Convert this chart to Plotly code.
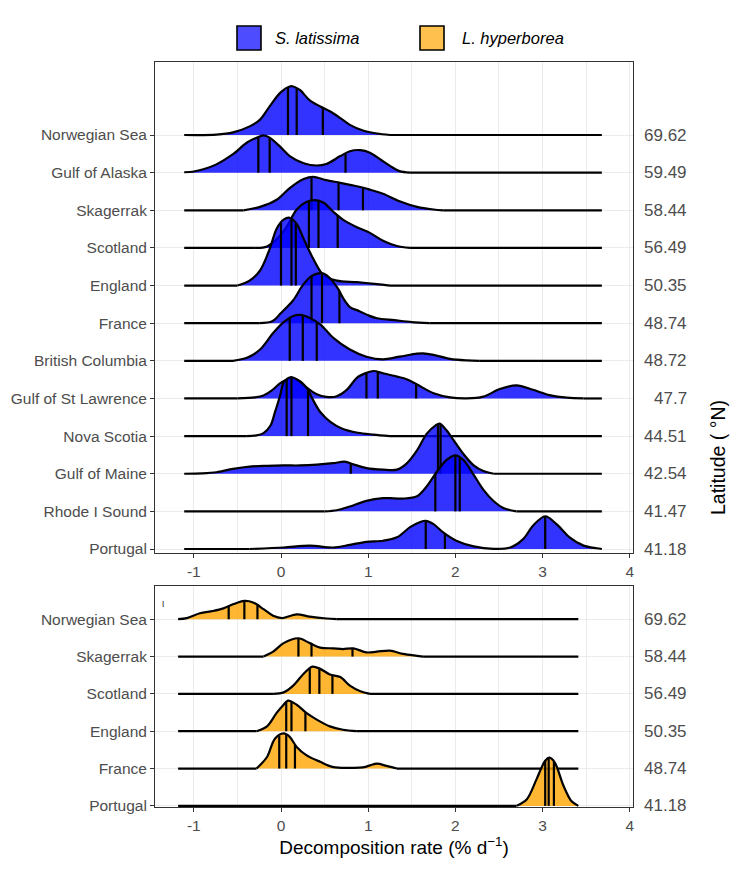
import numpy as np
import plotly.graph_objects as go

# ---------------- categories / tick labels ----------------
top_sites = ["Norwegian Sea", "Gulf of Alaska", "Skagerrak", "Scotland", "England", "France",
             "British Columbia", "Gulf of St Lawrence", "Nova Scotia", "Gulf of Maine",
             "Rhode I Sound", "Portugal"]
top_lat = ["69.62", "59.49", "58.44", "56.49", "50.35", "48.74", "48.72", "47.7",
           "44.51", "42.54", "41.47", "41.18"]
bot_sites = ["Norwegian Sea", "Skagerrak", "Scotland", "England", "France", "Portugal"]
bot_lat = ["69.62", "58.44", "56.49", "50.35", "48.74", "41.18"]
x_tick_vals = [-1, 0, 1, 2, 3, 4]
species = ["S. latissima", "L. hyperborea"]

# ---------------- S. latissima density curves (x, scaled height) + quartiles ----------------
sl_nor_x = [-1.11, -0.74, -0.55, -0.36, -0.24, -0.13, -0.01, 0.10, 0.14, 0.22, 0.33, 0.45, 0.56, 0.68, 0.79, 0.94, 1.10, 1.25, 3.68]
sl_nor_h = [0, 0.01, 0.07, 0.23, 0.41, 0.76, 1.12, 1.29, 1.29, 1.19, 0.92, 0.76, 0.63, 0.45, 0.27, 0.12, 0.04, 0, 0]
sl_nor_q = [0.08, 0.18, 0.48]

sl_ala_x = [-1.11, -1.0, -0.89, -0.74, -0.55, -0.39, -0.28, -0.20, -0.13, -0.01, 0.10, 0.26, 0.41, 0.52, 0.68, 0.79, 0.91, 1.02, 1.14, 1.25, 1.36, 1.48, 3.68]
sl_ala_h = [0.01, 0.03, 0.09, 0.22, 0.49, 0.80, 0.93, 0.99, 0.93, 0.69, 0.44, 0.25, 0.19, 0.23, 0.44, 0.57, 0.60, 0.53, 0.35, 0.18, 0.04, 0, 0]
sl_ala_q = [-0.26, -0.13, 0.74]

sl_ska_x = [-1.11, -0.43, -0.24, -0.05, 0.10, 0.26, 0.37, 0.52, 0.68, 0.87, 1.02, 1.17, 1.36, 1.56, 1.75, 1.86, 3.68]
sl_ska_h = [0, 0, 0.09, 0.28, 0.59, 0.83, 0.89, 0.80, 0.73, 0.64, 0.55, 0.44, 0.24, 0.09, 0.02, 0, 0]
sl_ska_q = [0.35, 0.66, 0.94]

sl_sco_x = [-1.11, -0.30, -0.16, 0.03, 0.18, 0.29, 0.39, 0.49, 0.60, 0.71, 0.87, 1.02, 1.17, 1.33, 1.48, 3.68]
sl_sco_h = [0, 0, 0.04, 0.44, 1.02, 1.22, 1.27, 1.20, 0.96, 0.75, 0.55, 0.40, 0.19, 0.05, 0, 0]
sl_sco_q = [0.32, 0.43, 0.65]

sl_eng_x = [-1.11, -0.50, -0.36, -0.24, -0.13, -0.05, 0.03, 0.10, 0.18, 0.26, 0.37, 0.49, 0.64, 0.87, 1.10, 1.25, 3.68]
sl_eng_h = [0, 0, 0.13, 0.40, 0.97, 1.51, 1.75, 1.80, 1.64, 1.24, 0.71, 0.27, 0.13, 0.09, 0.04, 0, 0]
sl_eng_q = [0.00, 0.12, 0.17]

sl_fra_x = [-1.11, -0.25, -0.10, 0.00, 0.14, 0.25, 0.35, 0.47, 0.55, 0.65, 0.72, 0.79, 0.90, 1.00, 1.10, 1.30, 1.50, 1.70, 3.68]
sl_fra_h = [0, 0, 0.05, 0.27, 0.61, 1.01, 1.25, 1.33, 1.22, 0.93, 0.64, 0.43, 0.32, 0.21, 0.13, 0.08, 0.03, 0, 0]
sl_fra_q = [0.35, 0.47, 0.67]

sl_bc_x = [-1.11, -0.55, -0.39, -0.24, -0.09, 0.03, 0.14, 0.22, 0.33, 0.45, 0.60, 0.79, 0.98, 1.17, 1.36, 1.56, 1.63, 1.75, 1.94, 2.13, 2.28, 3.68]
sl_bc_h = [0, 0, 0.08, 0.30, 0.74, 1.03, 1.19, 1.22, 1.14, 0.97, 0.61, 0.30, 0.11, 0.04, 0.11, 0.19, 0.20, 0.16, 0.05, 0.01, 0, 0]
sl_bc_q = [0.10, 0.25, 0.41]

sl_gsl_x = [-1.11, -0.50, -0.30, -0.20, -0.10, 0.00, 0.12, 0.22, 0.30, 0.41, 0.52, 0.64, 0.76, 0.87, 0.98, 1.06, 1.17, 1.33, 1.44, 1.56, 1.75, 1.94, 2.13, 2.32, 2.51, 2.70, 2.89, 3.08, 3.28, 3.47, 3.68]
sl_gsl_h = [0, 0, 0.03, 0.08, 0.22, 0.42, 0.54, 0.45, 0.28, 0.11, 0.04, 0.06, 0.24, 0.55, 0.68, 0.73, 0.67, 0.58, 0.51, 0.37, 0.14, 0.03, 0.005, 0.05, 0.25, 0.35, 0.23, 0.09, 0.02, 0, 0]
sl_gsl_q = [0.98, 1.11, 1.55]

sl_ns_x = [-1.11, -0.40, -0.28, -0.20, -0.12, -0.07, -0.01, 0.03, 0.07, 0.115, 0.20, 0.30, 0.37, 0.45, 0.57, 0.69, 0.88, 1.06, 1.25, 3.68]
sl_ns_h = [0, 0, 0.02, 0.08, 0.28, 0.63, 1.08, 1.43, 1.52, 1.57, 1.48, 1.26, 0.95, 0.64, 0.37, 0.21, 0.09, 0.04, 0, 0]
sl_ns_q = [0.065, 0.12, 0.31]

sl_gom_x = [-1.11, -0.90, -0.74, -0.55, -0.36, -0.16, 0.03, 0.22, 0.41, 0.60, 0.73, 0.83, 0.98, 1.17, 1.33, 1.44, 1.56, 1.67, 1.77, 1.82, 1.90, 1.98, 2.09, 2.21, 2.32, 2.44, 3.68]
sl_gom_h = [0, 0.01, 0.04, 0.13, 0.19, 0.21, 0.22, 0.22, 0.24, 0.28, 0.32, 0.25, 0.15, 0.11, 0.11, 0.27, 0.62, 1.06, 1.28, 1.33, 1.15, 0.89, 0.53, 0.22, 0.07, 0, 0]
sl_gom_q = [0.80, 1.80, 1.83]

sl_ris_x = [-1.11, 0.50, 0.64, 0.79, 0.98, 1.17, 1.25, 1.40, 1.56, 1.67, 1.79, 1.90, 2.00, 2.09, 2.21, 2.32, 2.44, 2.55, 2.70, 3.68]
sl_ris_h = [0, 0, 0.03, 0.13, 0.28, 0.35, 0.35, 0.34, 0.40, 0.66, 1.06, 1.37, 1.49, 1.37, 0.97, 0.58, 0.27, 0.09, 0, 0]
sl_ris_q = [1.77, 2.00, 2.05]

sl_por_x = [-1.11, -0.36, 0.03, 0.33, 0.60, 0.79, 0.98, 1.17, 1.33, 1.48, 1.59, 1.66, 1.75, 1.86, 2.01, 2.21, 2.44, 2.63, 2.78, 2.89, 3.03, 3.16, 3.31, 3.47, 3.62, 3.68]
sl_por_h = [0, 0, 0.04, 0.09, 0.04, 0.11, 0.19, 0.22, 0.31, 0.58, 0.71, 0.75, 0.66, 0.44, 0.22, 0.07, 0.005, 0.04, 0.27, 0.62, 0.87, 0.66, 0.31, 0.09, 0.02, 0]
sl_por_q = [1.66, 1.88, 3.03]

# ---------------- L. hyperborea density curves ----------------
lh_nor_x = [-1.18, -1.08, -0.93, -0.78, -0.66, -0.55, -0.42, -0.32, -0.20, -0.09, 0.01, 0.18, 0.33, 0.52, 0.64, 3.41]
lh_nor_h = [0, 0.03, 0.16, 0.22, 0.29, 0.40, 0.49, 0.45, 0.27, 0.09, 0.03, 0.13, 0.07, 0.02, 0, 0]
lh_nor_q = [-0.60, -0.42, -0.27]

lh_ska_x = [-1.18, -0.20, -0.09, 0.03, 0.20, 0.33, 0.45, 0.60, 0.71, 0.83, 0.98, 1.10, 1.25, 1.40, 1.56, 1.63, 3.41]
lh_ska_h = [0, 0, 0.13, 0.36, 0.49, 0.36, 0.24, 0.22, 0.20, 0.22, 0.11, 0.13, 0.16, 0.07, 0.02, 0, 0]
lh_ska_q = [0.20, 0.35, 0.82]

lh_sco_x = [-1.18, -0.09, 0.03, 0.14, 0.26, 0.36, 0.45, 0.56, 0.68, 0.79, 0.91, 1.02, 3.41]
lh_sco_h = [0, 0, 0.04, 0.22, 0.54, 0.73, 0.67, 0.52, 0.45, 0.22, 0.07, 0, 0]
lh_sco_q = [0.33, 0.44, 0.59]

lh_eng_x = [-1.18, -0.28, -0.16, -0.05, 0.03, 0.08, 0.18, 0.29, 0.41, 0.56, 0.71, 0.87, 3.41]
lh_eng_h = [0, 0, 0.13, 0.49, 0.71, 0.82, 0.71, 0.49, 0.31, 0.13, 0.04, 0, 0]
lh_eng_q = [0.06, 0.12, 0.28]

lh_fra_x = [-1.18, -0.28, -0.16, -0.07, 0.03, 0.10, 0.18, 0.29, 0.45, 0.60, 0.79, 0.94, 1.10, 1.21, 1.33, 3.41]
lh_fra_h = [0, 0, 0.31, 0.80, 0.94, 0.85, 0.58, 0.36, 0.18, 0.04, 0.02, 0.03, 0.13, 0.07, 0, 0]
lh_fra_q = [-0.02, 0.06, 0.16]

lh_por_x = [-1.18, 2.70, 2.82, 2.93, 3.03, 3.08, 3.14, 3.24, 3.33, 3.41]
lh_por_h = [0, 0, 0.18, 0.71, 1.21, 1.29, 1.16, 0.54, 0.13, 0]
lh_por_q = [3.03, 3.07, 3.13]

# ---------------- assemble ----------------
sl_xs = [sl_nor_x, sl_ala_x, sl_ska_x, sl_sco_x, sl_eng_x, sl_fra_x, sl_bc_x, sl_gsl_x, sl_ns_x, sl_gom_x, sl_ris_x, sl_por_x]
sl_hs = [sl_nor_h, sl_ala_h, sl_ska_h, sl_sco_h, sl_eng_h, sl_fra_h, sl_bc_h, sl_gsl_h, sl_ns_h, sl_gom_h, sl_ris_h, sl_por_h]
sl_qs = [sl_nor_q, sl_ala_q, sl_ska_q, sl_sco_q, sl_eng_q, sl_fra_q, sl_bc_q, sl_gsl_q, sl_ns_q, sl_gom_q, sl_ris_q, sl_por_q]
lh_xs = [lh_nor_x, lh_ska_x, lh_sco_x, lh_eng_x, lh_fra_x, lh_por_x]
lh_hs = [lh_nor_h, lh_ska_h, lh_sco_h, lh_eng_h, lh_fra_h, lh_por_h]
lh_qs = [lh_nor_q, lh_ska_q, lh_sco_q, lh_eng_q, lh_fra_q, lh_por_q]

BLUE_FILL = "rgba(0,0,255,0.8)"
ORANGE_FILL = "rgba(255,165,0,0.8)"
FONT = "Liberation Sans, Arial, sans-serif"
TICK_COL = "#4D4D4D"
LW = 2.2

fig = go.Figure()


def add_ridges(xs_list, hs_list, qs_list, fill, xa, ya):
    n = len(xs_list)
    for i in range(n):
        base = n - i
        xs = np.array(xs_list[i], dtype=float)
        hs = np.array(hs_list[i], dtype=float)
        nz = np.nonzero(hs > 0)[0]
        i0 = max(nz[0] - 1, 0)
        i1 = min(nz[-1] + 1, len(xs) - 1)
        # flat tails (zero density) drawn straight
        tx, ty = [], []
        if i0 > 0:
            tx += [xs[0], xs[i0], None]
            ty += [base, base, None]
        if i1 < len(xs) - 1:
            tx += [xs[i1], xs[-1], None]
            ty += [base, base, None]
        if tx:
            fig.add_trace(go.Scatter(x=tx, y=ty, mode="lines", line=dict(color="black", width=LW),
                                     showlegend=False, hoverinfo="skip", xaxis=xa, yaxis=ya))
        # invisible base for the fill
        fig.add_trace(go.Scatter(x=[xs[i0], xs[i1]], y=[base, base], mode="lines",
                                 line=dict(width=0, color="rgba(0,0,0,0)"),
                                 showlegend=False, hoverinfo="skip", xaxis=xa, yaxis=ya))
        fig.add_trace(go.Scatter(x=xs[i0:i1 + 1], y=base + hs[i0:i1 + 1], mode="lines",
                                 line=dict(color="black", width=LW, shape="spline", smoothing=0.9),
                                 fill="tonexty", fillcolor=fill,
                                 showlegend=False, hoverinfo="skip", xaxis=xa, yaxis=ya))
        qx, qy = [], []
        for q in qs_list[i]:
            top = base + float(np.interp(q, xs, hs))
            qx += [q, q, None]
            qy += [base, top, None]
        fig.add_trace(go.Scatter(x=qx, y=qy, mode="lines", line=dict(color="black", width=2.2),
                                 showlegend=False, hoverinfo="skip", xaxis=xa, yaxis=ya))


add_ridges(sl_xs, sl_hs, sl_qs, BLUE_FILL, "x", "y")
add_ridges(lh_xs, lh_hs, lh_qs, ORANGE_FILL, "x2", "y2")

# ---------------- layout ----------------
W, H = 750, 888
ML, MR, MT, MB = 155, 117, 62, 81
PW, PH = W - ML - MR, H - MT - MB


def px_x(px):
    return (px - ML) / PW


def px_y(py):
    return (H - MB - py) / PH


xr = [-1.445, 4.037]
common_x = dict(range=xr, tickvals=x_tick_vals, ticktext=[str(v) for v in x_tick_vals],
                showgrid=True, gridcolor="#EBEBEB", gridwidth=1,
                minor=dict(dtick=0.5, tick0=0, showgrid=True, gridcolor="#EBEBEB", gridwidth=0.6),
                zeroline=False, showline=True, mirror=True, linecolor="#333333", linewidth=1,
                ticks="outside", ticklen=4, tickcolor="#333333", tickwidth=1,
                tickfont=dict(family=FONT, size=15.5, color=TICK_COL))
common_y = dict(showgrid=True, gridcolor="#EBEBEB", gridwidth=1, zeroline=False,
                showline=True, mirror=True, linecolor="#333333", linewidth=1,
                ticks="outside", ticklen=4, tickcolor="#333333", tickwidth=1,
                tickfont=dict(family=FONT, size=15.5, color=TICK_COL))

n_top, n_bot = len(top_sites), len(bot_sites)
fig.update_layout(
    width=W, height=H, margin=dict(l=ML, r=MR, t=MT, b=MB),
    paper_bgcolor="white", plot_bgcolor="white", showlegend=False,
    font=dict(family=FONT),
    xaxis=dict(anchor="y", domain=[0, 1], **common_x),
    yaxis=dict(domain=[px_y(553), 1], range=[0.894, 13.94],
               tickvals=list(range(1, n_top + 1)), ticktext=top_sites[::-1], **common_y),
    xaxis2=dict(anchor="y2", domain=[0, 1],
                title=dict(text="Decomposition rate (% d<sup>−1</sup>)", standoff=6,
                           font=dict(family=FONT, size=19, color="black")),
                **common_x),
    yaxis2=dict(domain=[0, px_y(586)], range=[0.97, 6.89],
                tickvals=list(range(1, n_bot + 1)), ticktext=bot_sites[::-1], **common_y),
)

ann = []
for i, lab in enumerate(top_lat):
    ann.append(dict(x=px_x(689), y=n_top - i, xref="paper", yref="y", text=lab, showarrow=False,
                    xanchor="right", yanchor="middle", font=dict(family=FONT, size=17, color=TICK_COL)))
for i, lab in enumerate(bot_lat):
    ann.append(dict(x=px_x(689), y=n_bot - i, xref="paper", yref="y2", text=lab, showarrow=False,
                    xanchor="right", yanchor="middle", font=dict(family=FONT, size=17, color=TICK_COL)))
ann.append(dict(x=px_x(718), y=px_y(458), xref="paper", yref="paper", text="Latitude ( °N)",
                textangle=-90, showarrow=False, xanchor="center", yanchor="middle",
                font=dict(family=FONT, size=19.5, color="black")))
ann.append(dict(x=px_x(163), y=px_y(603), xref="paper", yref="paper", text="ι",
                showarrow=False, xanchor="center", yanchor="middle",
                font=dict(family=FONT, size=10, color="#333333")))

# legend (manual)
legend_items = [(species[0], "#4D4DFF", 237, 273), (species[1], "#FFC04D", 420, 460)]
shapes = []
for name, col, bx, tx in legend_items:
    shapes.append(dict(type="rect", xref="paper", yref="paper",
                       x0=px_x(bx), x1=px_x(bx + 24), y0=px_y(50), y1=px_y(26),
                       fillcolor=col, line=dict(color="black", width=1.6)))
    ann.append(dict(x=px_x(tx), y=px_y(38), xref="paper", yref="paper", text="<i>%s</i>" % name,
                    showarrow=False, xanchor="left", yanchor="middle",
                    font=dict(family=FONT, size=16.5, color="black")))

fig.update_layout(annotations=ann, shapes=shapes)
fig.write_html("out.html", config={"displayModeBar": False},
               post_script="document.body.style.margin='0';document.body.style.overflow='hidden';")
